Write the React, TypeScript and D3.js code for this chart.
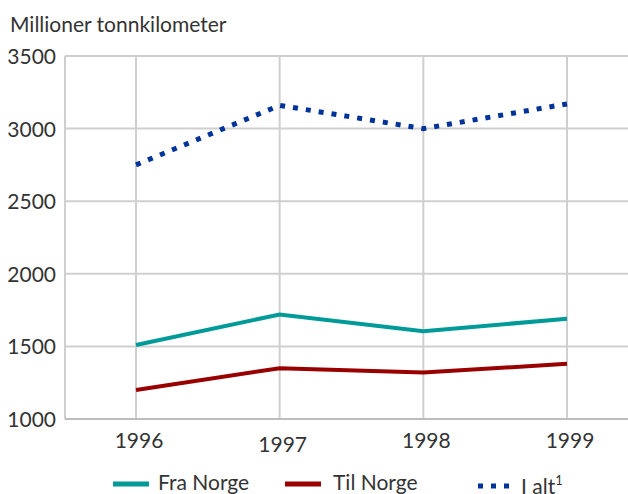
import React from "react";
import * as d3 from "d3";

const years = ["1996", "1997", "1998", "1999"];
const fraNorge = [1510, 1720, 1605, 1690];
const tilNorge = [1200, 1350, 1320, 1380];
const iAlt = [2750, 3160, 3000, 3170];
const yTicks = [1000, 1500, 2000, 2500, 3000, 3500];
const yTitle = "Millioner tonnkilometer";

const W = 628, H = 494;
const left = 65, top = 56, bottom = 419;

export default function App() {
  const x = d3.scalePoint<string>().domain(years).range([136, 567]);
  const y = d3.scaleLinear().domain([1000, 3500]).range([bottom, top]);
  const line = d3.line<number>().x((_, i) => x(years[i])!).y((d) => y(d));
  const font = "Lato, 'Open Sans', sans-serif";
  const fs = 21;
  const series = [
    { name: "Fra Norge", data: fraNorge, color: "#009b98", lx: 113, tx: 158 },
    { name: "Til Norge", data: tilNorge, color: "#990000", lx: 285, tx: 333 },
  ];
  return (
    <svg width={W} height={H} style={{ position: "absolute", left: 0, top: 0, fontFamily: font }}>
      <rect width={W} height={H} fill="#fff" />
      <text x={10} y={32} fontSize={fs} fill="#333">{yTitle}</text>
      {yTicks.map((t) => (
        <g key={t}>
          <line x1={left} x2={W} y1={y(t)} y2={y(t)} stroke="#cfcfcf" strokeWidth={2} />
          <text x={56} y={y(t) + 8} textAnchor="end" fontSize={fs} fill="#333">{t}</text>
        </g>
      ))}
      <line x1={left} x2={left} y1={top} y2={bottom} stroke="#cfcfcf" strokeWidth={2} />
      {years.map((yr, i) => (
        <g key={yr}>
          <line x1={x(yr)} x2={x(yr)} y1={top} y2={bottom} stroke="#cfcfcf" strokeWidth={2} />
          <text x={x(yr)! + 3} y={i === 1 ? 452 : 448} textAnchor="middle" fontSize={fs} fill="#333">{yr}</text>
        </g>
      ))}
      <line x1={left} x2={W} y1={bottom} y2={bottom} stroke="#bdbdbd" strokeWidth={2} />
      {series.map((s) => (
        <path key={s.name} d={line(s.data)!} fill="none" stroke={s.color} strokeWidth={4} />
      ))}
      <path d={line(iAlt)!} fill="none" stroke="#003399" strokeWidth={5} strokeDasharray="5,8" />
      {series.map((s) => (
        <g key={s.name + "l"}>
          <line x1={s.lx} x2={s.lx + 36} y1={484} y2={484} stroke={s.color} strokeWidth={5} />
          <text x={s.tx} y={490} fontSize={fs} fill="#333">{s.name}</text>
        </g>
      ))}
      <line x1={478} x2={512} y1={486} y2={486} stroke="#003399" strokeWidth={5} strokeDasharray="5,8" />
      <text x={521} y={494} fontSize={fs} fill="#333">I alt<tspan dy={-9} fontSize={13}>1</tspan></text>
    </svg>
  );
}
